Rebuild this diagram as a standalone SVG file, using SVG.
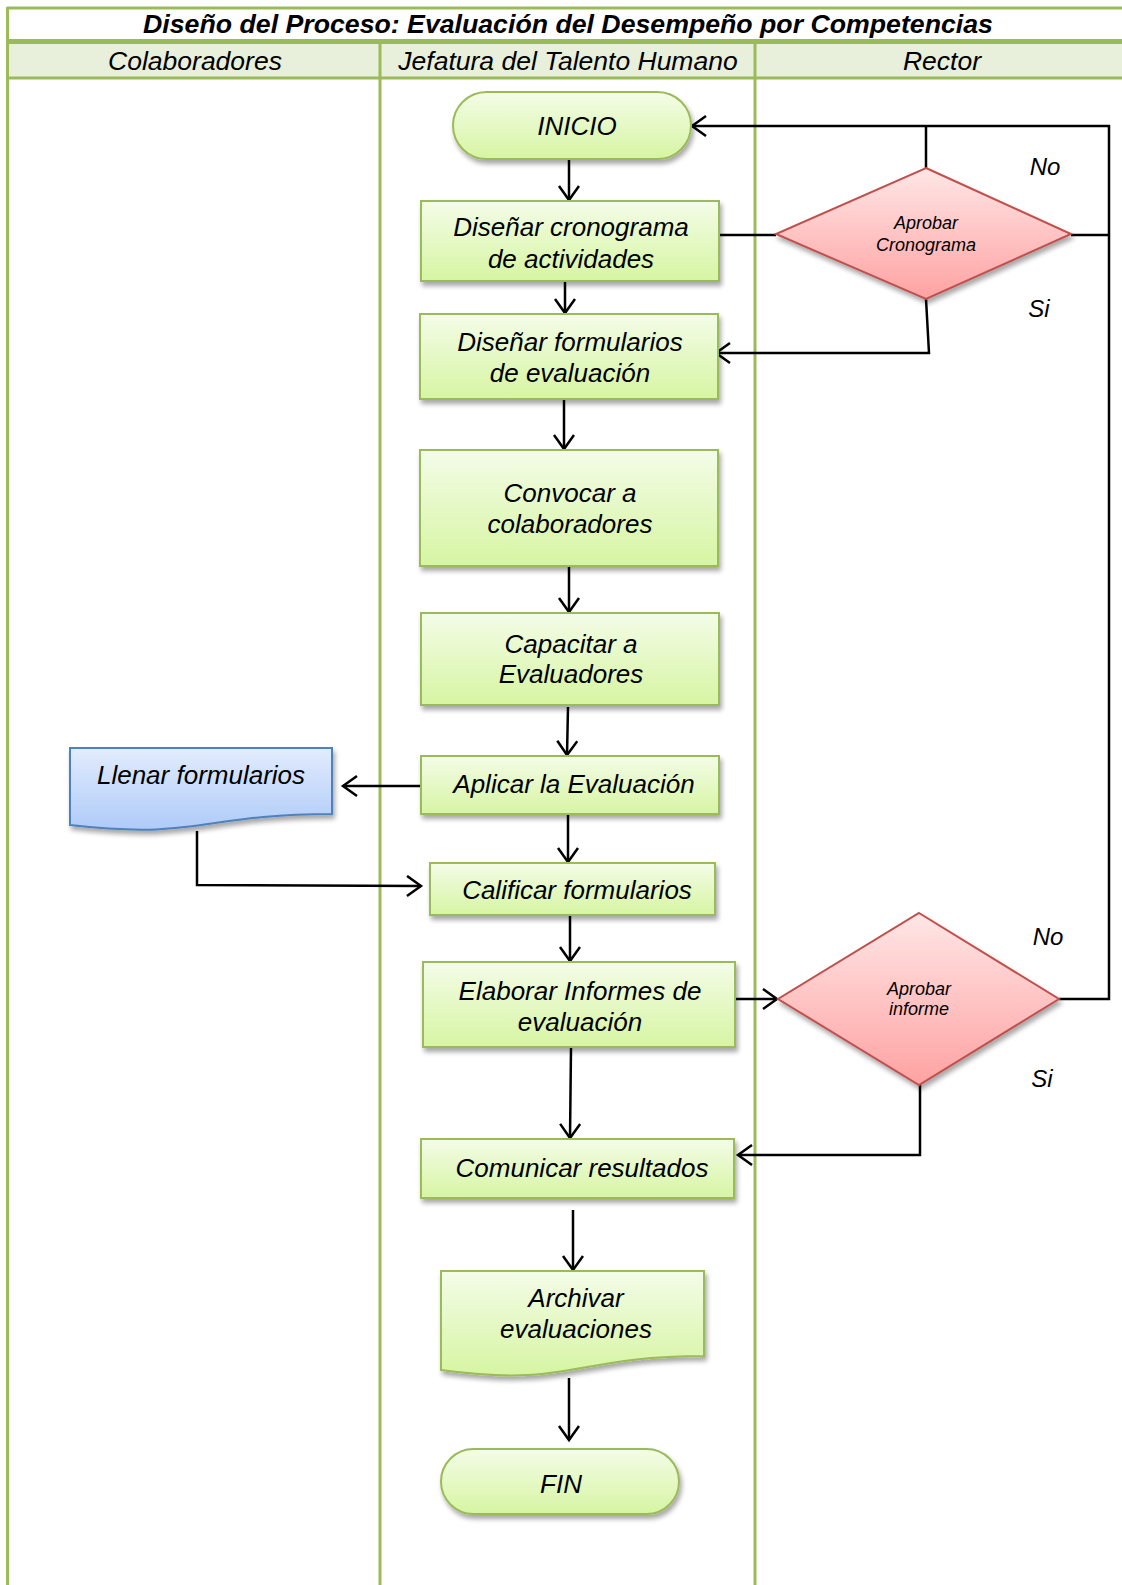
<svg xmlns="http://www.w3.org/2000/svg" width="1122" height="1585" viewBox="0 0 1122 1585">
  <defs>
    <linearGradient id="gGreen" x1="0" y1="0" x2="0" y2="1">
      <stop offset="0" stop-color="#F4FCE8"/>
      <stop offset="1" stop-color="#D6F5A2"/>
    </linearGradient>
    <linearGradient id="gRed" x1="0" y1="0" x2="0" y2="1">
      <stop offset="0" stop-color="#FFE6E6"/>
      <stop offset="1" stop-color="#FFA2A2"/>
    </linearGradient>
    <linearGradient id="gBlue" x1="0" y1="0" x2="0" y2="1">
      <stop offset="0" stop-color="#E2ECFD"/>
      <stop offset="1" stop-color="#AFCBF8"/>
    </linearGradient>
    <filter id="shadow" x="-10%" y="-20%" width="120%" height="150%">
      <feGaussianBlur in="SourceAlpha" stdDeviation="2.5"/>
      <feOffset dx="2" dy="4" result="off"/>
      <feComponentTransfer in="off" result="soft">
        <feFuncA type="linear" slope="0.35"/>
      </feComponentTransfer>
      <feMerge>
        <feMergeNode in="soft"/>
        <feMergeNode in="SourceGraphic"/>
      </feMerge>
    </filter>
    <marker id="arrow" markerUnits="userSpaceOnUse" markerWidth="18" markerHeight="24" refX="15" refY="11" orient="auto">
      <path d="M1,1 L15,11 L1,21" fill="none" stroke="#000" stroke-width="2.5"/>
    </marker>
    <style>
      .lane { stroke: #9BBB59; fill: none; }
      .box { fill: url(#gGreen); stroke: #9BBB59; stroke-width: 2; filter: url(#shadow); }
      .dec { fill: url(#gRed); stroke: #C0504D; stroke-width: 2; filter: url(#shadow); }
      .doc { fill: url(#gBlue); stroke: #4F81BD; stroke-width: 2; filter: url(#shadow); }
      .txt { font-family: "Liberation Sans", Arial, sans-serif; font-style: italic; font-size: 26px; fill: #000; text-anchor: middle; }
      .head { font-size: 26.5px; }
      .small { font-size: 18px; }
      .lbl { font-size: 24px; }
      .title { font-weight: bold; font-size: 26.7px; }
      .conn { fill: none; stroke: #000; stroke-width: 2.5; }
      .arr { marker-end: url(#arrow); }
    </style>
  </defs>

  <rect x="0" y="0" width="1122" height="1585" fill="#FFFFFF"/>

  <!-- pool frame, header row and lanes -->
  <g id="frame">
    <rect x="8" y="42" width="1114" height="36" fill="#E8EFDA"/>
    <line class="lane" x1="7" y1="8" x2="1122" y2="8" stroke-width="3"/>
    <line class="lane" x1="7" y1="41.5" x2="1122" y2="41.5" stroke-width="5"/>
    <line class="lane" x1="7" y1="78" x2="1122" y2="78" stroke-width="3"/>
    <line class="lane" x1="7.5" y1="7" x2="7.5" y2="1585" stroke-width="3"/>
    <line class="lane" x1="380" y1="42" x2="380" y2="1585" stroke-width="3"/>
    <line class="lane" x1="755" y1="42" x2="755" y2="1585" stroke-width="3"/>
    <text class="txt title" x="568" y="33">Diseño del Proceso: Evaluación del Desempeño por Competencias</text>
    <text class="txt head" x="195" y="70">Colaboradores</text>
    <text class="txt head" x="568" y="70">Jefatura del Talento Humano</text>
    <text class="txt head" x="942" y="70">Rector</text>
  </g>

  <!-- connectors -->
  <g id="connectors">
    <path class="conn arr" d="M569,159 L569,200"/>
    <path class="conn arr" d="M565,282 L565,313"/>
    <path class="conn arr" d="M564,400 L564,449"/>
    <path class="conn arr" d="M569,567 L569,612"/>
    <path class="conn arr" d="M568,707 L567,755"/>
    <path class="conn arr" d="M568,815 L568,862"/>
    <path class="conn arr" d="M421,786 L343,786"/>
    <path class="conn arr" d="M197,831 L197,885 L421,886"/>
    <path class="conn arr" d="M570,916 L570,961"/>
    <path class="conn arr" d="M735,999 L777,999"/>
    <path class="conn arr" d="M571,1048 L570,1138"/>
    <path class="conn arr" d="M920,1085 L920,1155 L738,1155"/>
    <path class="conn arr" d="M1059,999 L1109,999 L1109,126 L692,126"/>
    <path class="conn" d="M719,235 L776,235"/>
    <path class="conn" d="M1071,235 L1109,235"/>
    <path class="conn" d="M926,168 L926,126"/>
    <path class="conn arr" d="M926,299 L929,353 L716,353"/>
    <path class="conn arr" d="M573,1210 L573,1270"/>
    <path class="conn arr" d="M569,1378 L569,1440"/>
  </g>

  <g id="inicio">
    <rect class="box" x="453" y="92" width="238" height="67" rx="33.5"/>
    <text class="txt" x="577" y="135">INICIO</text>
  </g>
  <g id="disenar-cronograma">
    <rect class="box" x="421" y="201" width="298" height="80"/>
    <text class="txt" x="571" y="236">Diseñar cronograma</text>
    <text class="txt" x="571" y="268">de actividades</text>
  </g>
  <g id="disenar-formularios">
    <rect class="box" x="420" y="314" width="298" height="85"/>
    <text class="txt" x="570" y="351">Diseñar formularios</text>
    <text class="txt" x="570" y="382">de evaluación</text>
  </g>
  <g id="convocar">
    <rect class="box" x="420" y="450" width="298" height="116"/>
    <text class="txt" x="570" y="502">Convocar a</text>
    <text class="txt" x="570" y="533">colaboradores</text>
  </g>
  <g id="capacitar">
    <rect class="box" x="421" y="613" width="298" height="92"/>
    <text class="txt" x="571" y="653">Capacitar a</text>
    <text class="txt" x="571" y="683">Evaluadores</text>
  </g>
  <g id="aplicar">
    <rect class="box" x="421" y="756" width="298" height="58"/>
    <text class="txt" x="574" y="793">Aplicar la Evaluación</text>
  </g>
  <g id="llenar">
    <path class="doc" d="M70,748 L332,748 L332,814 C201,814 201,840 70,825 Z"/>
    <text class="txt" x="201" y="784">Llenar formularios</text>
  </g>
  <g id="calificar">
    <rect class="box" x="430" y="863" width="285" height="52"/>
    <text class="txt" x="577" y="899">Calificar formularios</text>
  </g>
  <g id="elaborar">
    <rect class="box" x="423" y="962" width="312" height="85"/>
    <text class="txt" x="580" y="1000">Elaborar Informes de</text>
    <text class="txt" x="580" y="1031">evaluación</text>
  </g>
  <g id="comunicar">
    <rect class="box" x="421" y="1139" width="313" height="59"/>
    <text class="txt" x="582" y="1177">Comunicar resultados</text>
  </g>
  <g id="archivar">
    <path class="box" d="M441,1271 L704,1271 L704,1356 C572,1356 572,1388 441,1370 Z"/>
    <text class="txt" x="576" y="1307">Archivar</text>
    <text class="txt" x="576" y="1338">evaluaciones</text>
  </g>
  <g id="fin">
    <rect class="box" x="441" y="1449" width="238" height="65" rx="32.5"/>
    <text class="txt" x="561" y="1493">FIN</text>
  </g>
  <g id="aprobar-cronograma">
    <polygon class="dec" points="926,168 1071,234 926,299 776,234"/>
    <text class="txt small" x="926" y="229">Aprobar</text>
    <text class="txt small" x="926" y="251">Cronograma</text>
  </g>
  <g id="aprobar-informe">
    <polygon class="dec" points="919,913 1059,999 919,1085 778,999"/>
    <text class="txt small" x="919" y="995">Aprobar</text>
    <text class="txt small" x="919" y="1015">informe</text>
  </g>

  <!-- decision branch labels -->
  <g id="labels">
    <text class="txt lbl" x="1045" y="175">No</text>
    <text class="txt lbl" x="1039" y="317">Si</text>
    <text class="txt lbl" x="1048" y="945">No</text>
    <text class="txt lbl" x="1042" y="1087">Si</text>
  </g>
</svg>
